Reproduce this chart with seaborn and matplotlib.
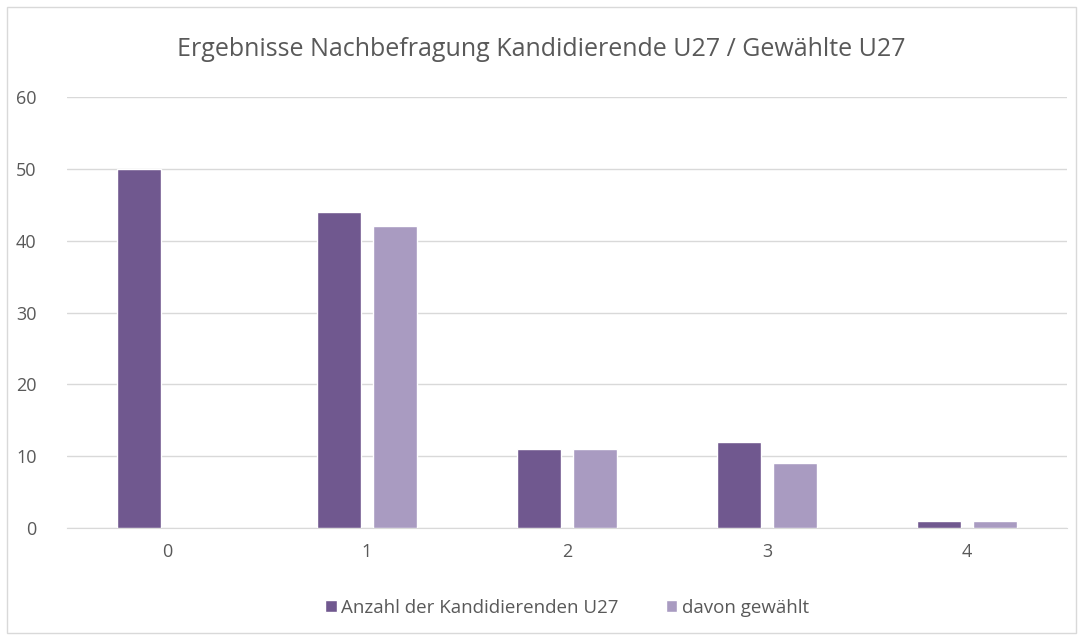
import pandas as pd
import matplotlib.pyplot as plt
import seaborn as sns
from matplotlib.patches import Rectangle

# Values
categories = ["0", "1", "2", "3", "4"]
kandidierende = [50, 44, 11, 12, 1]
gewaehlt = [0, 42, 11, 9, 1]
series_names = ["Anzahl der Kandidierenden U27", "davon gewählt"]

df = pd.DataFrame({
    "Kategorie": categories * 2,
    "Wert": kandidierende + gewaehlt,
    "Serie": [series_names[0]] * 5 + [series_names[1]] * 5,
})

sns.set_style("white")
plt.rcParams['font.family'] = ['Open Sans', 'DejaVu Sans']
text_color = "#595959"

fig = plt.figure(figsize=(10.83, 6.4), dpi=100)
ax = fig.add_axes([67 / 1083, 1 - 528 / 640, 1000 / 1083, 431 / 640])

sns.barplot(data=df, x="Kategorie", y="Wert", hue="Serie", ax=ax,
            palette=["#70588F", "#A99BC1"], width=0.56, gap=0.2,
            saturation=1, zorder=3)

ax.set_ylim(0, 60)
ax.set_yticks(range(0, 61, 10))
ax.yaxis.grid(True, color="#D9D9D9", linewidth=1, zorder=0)
ax.set_axisbelow(True)
for side in ["top", "right", "left"]:
    ax.spines[side].set_visible(False)
ax.spines["bottom"].set_color("#D9D9D9")
ax.tick_params(axis="both", length=0, labelsize=13, colors=text_color, pad=11)
ax.tick_params(axis="y", pad=22)
ax.set_xlabel("")
ax.set_ylabel("")

ax.legend(loc="upper center", bbox_to_anchor=(0.5, -0.125), ncol=2, frameon=False,
          fontsize=13.5, handlelength=0.6, handleheight=0.6, handletextpad=0.25,
          columnspacing=2.5, labelcolor=text_color)

fig.text(0.5, 1 - 50 / 640, "Ergebnisse Nachbefragung Kandidierende U27 / Gewählte U27",
         ha="center", va="center", fontsize=18, color=text_color)

fig.patches.append(Rectangle((7 / 1083, 7 / 640), 1069 / 1083, 626 / 640,
                             transform=fig.transFigure, fill=False,
                             edgecolor="#D9D9D9", linewidth=1))

fig.savefig("out.png", dpi=100)
